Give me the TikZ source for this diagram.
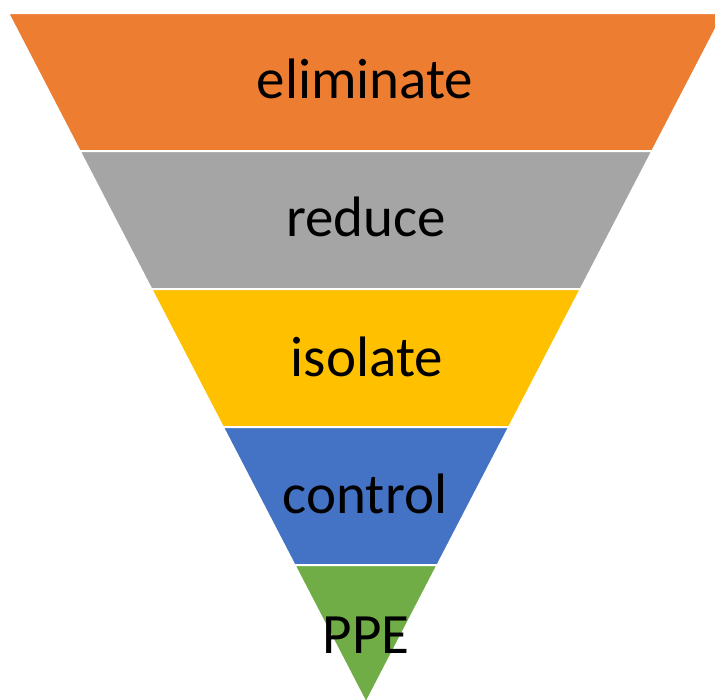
\documentclass[tikz,border=0pt]{standalone}
\usepackage{fontspec}
\setmainfont{Carlito}
\definecolor{cOrange}{HTML}{ED7D31}
\definecolor{cGray}{HTML}{A5A5A5}
\definecolor{cYellow}{HTML}{FFC000}
\definecolor{cBlue}{HTML}{4472C4}
\definecolor{cGreen}{HTML}{70AD47}
\tikzset{
  band/.style={draw=white, line width=2pt, line join=miter},
  lbl/.style={anchor=base, inner sep=0pt, font=\fontsize{57}{61}\selectfont, text=black}
}
\begin{document}
\begin{tikzpicture}[x=1pt,y=-1pt]
\useasboundingbox (0,0) rectangle (715,699);
\fill[white] (0,0) rectangle (715,699);
\filldraw[band, fill=cOrange] (8,13) -- (724,13) -- (652.4,151) -- (79.6,151) -- cycle;
\filldraw[band, fill=cGray] (79.6,151) -- (652.4,151) -- (580.8,289) -- (151.2,289) -- cycle;
\filldraw[band, fill=cYellow] (151.2,289) -- (580.8,289) -- (509.2,427) -- (222.8,427) -- cycle;
\filldraw[band, fill=cBlue] (222.8,427) -- (509.2,427) -- (437.6,565) -- (294.4,565) -- cycle;
\filldraw[band, fill=cGreen] (294.4,565) -- (437.6,565) -- (366,703) -- cycle;
\node[lbl] (eliminate) at (365,98) {eliminate};
\node[lbl] (reduce) at (366,236) {reduce};
\node[lbl] (isolate) at (367,376) {isolate};
\node[lbl] (control) at (365,513) {control};
\node[lbl] (ppe) at (366,653) {PPE};
\end{tikzpicture}
\end{document}
